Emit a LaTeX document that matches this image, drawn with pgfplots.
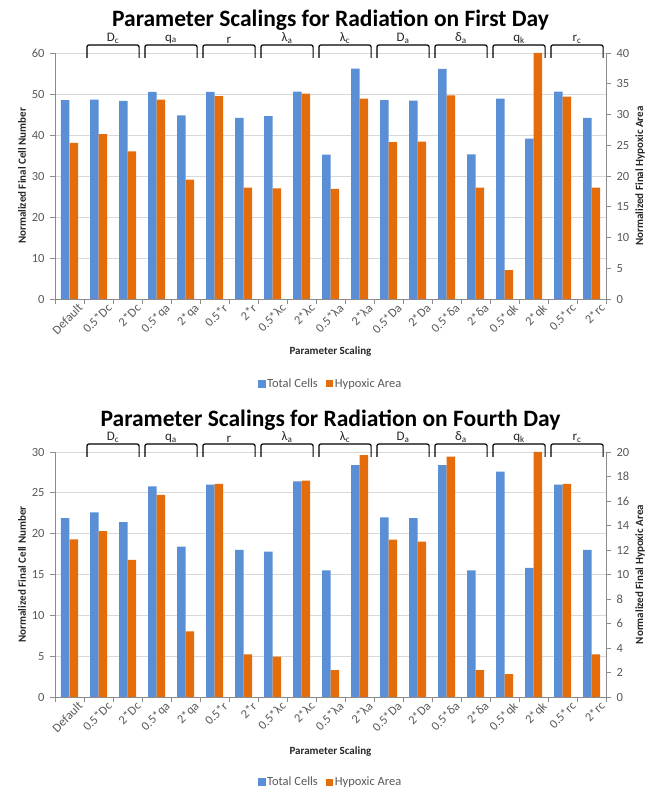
\documentclass[border=0pt]{standalone}
\usepackage{fontspec}
\setmainfont{Carlito}
\usepackage{pgfplots}
\pgfplotsset{compat=1.18}
\definecolor{cblue}{HTML}{5A8FD6}
\definecolor{corange}{HTML}{E46C0A}
\definecolor{tickgray}{HTML}{595959}
\definecolor{axgray}{HTML}{8C8C8C}
\definecolor{gridgray}{HTML}{D9D9D9}
\definecolor{labgray}{HTML}{262626}

\newcommand\brk[4]{%
  \draw[black, line width=1.2pt, rounded corners=2pt]
    ([yshift=-5pt]axis cs:#1,#3) -- ([yshift=8pt]axis cs:#1,#3) --
    ([yshift=8pt]axis cs:#2,#3) -- ([yshift=-5pt]axis cs:#2,#3);
  \node[anchor=south, inner sep=1pt, font=\fontsize{13}{14}\selectfont, text=labgray]
    at ([yshift=8.5pt]axis cs:{(#1+#2)/2},#3) {#4};}

\newcommand\brackets[1]{%
  \brk{0.6}{2.4}{#1}{D\textsubscript{c}}
  \brk{2.6}{4.4}{#1}{q\textsubscript{a}}
  \brk{4.6}{6.4}{#1}{r}
  \brk{6.6}{8.4}{#1}{λ\textsubscript{a}}
  \brk{8.6}{10.4}{#1}{λ\textsubscript{c}}
  \brk{10.6}{12.4}{#1}{D\textsubscript{a}}
  \brk{12.6}{14.4}{#1}{δ\textsubscript{a}}
  \brk{14.6}{16.4}{#1}{q\textsubscript{k}}
  \brk{16.6}{18.4}{#1}{r\textsubscript{c}}}

\pgfplotsset{
  base/.style={
    scale only axis, width=551pt,
    xmin=-0.5, xmax=18.5, ymin=0,
    ybar, bar width=8.5pt,
    /pgf/number format/assume math mode=true,
    tick label style={font=\fontsize{12.5}{14}\selectfont, text=tickgray},
    axis line style={axgray, line width=0.9pt},
    tick style={axgray, line width=0.9pt},
    major tick length=5pt, minor tick length=5pt,
    tick align=outside,
    clip=false,
  },
  leftax/.style={base,
    axis x line*=bottom, axis y line*=left,
    major tick length=0pt,
    ymajorgrids, grid style={gridgray, line width=0.9pt},
    xtick={0,...,18},
    xticklabels={Default,0.5*Dc,2*Dc,0.5*qa,2*qa,0.5*r,2*r,0.5*λc,2*λc,0.5*λa,2*λa,0.5*Da,2*Da,0.5*δa,2*δa,0.5*qk,2*qk,0.5*rc,2*rc},
    minor xtick={-0.5,0.5,...,18.5},
    xticklabel style={rotate=45, anchor=north east, inner sep=1pt, yshift=-7pt, xshift=4pt},
    yticklabel style={anchor=east, xshift=-7pt},
    xlabel={Parameter Scaling},
    xlabel style={font=\bfseries\fontsize{11}{13}\selectfont, text=labgray, at={(axis description cs:0.5,0)}, anchor=center},
    ylabel={Normalized Final Cell Number},
    ylabel style={font=\bfseries\fontsize{11}{13}\selectfont, text=labgray, at={(axis description cs:-0.06,0.5)}, anchor=center},
    title style={font=\bfseries\fontsize{23.5}{26}\selectfont, at={(axis description cs:0.5,1)}, anchor=center},
  },
  rightax/.style={base,
    axis x line=none, axis y line*=right,
    xtick=\empty,
    yticklabel style={anchor=west, xshift=2pt},
    ylabel={Normalized Final Hypoxic Area},
    ylabel style={font=\bfseries\fontsize{11}{13}\selectfont, text=labgray, at={(axis description cs:1.062,0.5)}, anchor=center},
    legend columns=2,
    legend style={draw=none, fill=none, font=\fontsize{12.5}{14}\selectfont, text=tickgray,
      /tikz/every even column/.append style={column sep=6pt}, inner sep=1pt},
  },
}

\begin{document}
\begin{tikzpicture}
\path[use as bounding box] (0pt,0pt) rectangle (662pt,794pt);

% ---------- First Day ----------
\begin{axis}[leftax, at={(55pt,495pt)}, anchor=south west, height=246pt,
  ymax=60, ytick={0,10,...,60}, minor ytick={0,10,...,60},
  xlabel style={yshift=-53pt},
  title={Parameter Scalings for Radiation on First Day}, title style={yshift=27pt}]
\addplot[fill=cblue, draw=none, bar shift=-4.25pt] coordinates {
(0,48.5) (1,48.6) (2,48.3) (3,50.5) (4,44.8) (5,50.5) (6,44.2) (7,44.6) (8,50.6) (9,35.2)
(10,56.2) (11,48.5) (12,48.4) (13,56.1) (14,35.3) (15,48.9) (16,39.1) (17,50.6) (18,44.2)};
\brackets{60}
\end{axis}
\begin{axis}[rightax, at={(55pt,495pt)}, anchor=south west, height=246pt,
  ymax=40, ytick={0,5,...,40},
  legend style={at={(axis description cs:0.5,-0.3455)}, anchor=center}]
\addlegendimage{legend image code/.code={\fill[cblue] (0pt,-3.5pt) rectangle (7pt,3.5pt);}}
\addlegendentry{Total Cells}
\addplot[fill=corange, draw=none, bar shift=4.25pt,
  legend image code/.code={\fill[corange] (0pt,-3.5pt) rectangle (7pt,3.5pt);}] coordinates {
(0,25.4) (1,26.8) (2,24.0) (3,32.4) (4,19.4) (5,33.0) (6,18.1) (7,18.0) (8,33.4) (9,17.9)
(10,32.6) (11,25.5) (12,25.6) (13,33.1) (14,18.1) (15,4.7) (16,40.0) (17,32.9) (18,18.1)};
\addlegendentry{Hypoxic Area}
\end{axis}

% ---------- Fourth Day ----------
\begin{axis}[leftax, at={(55pt,97pt)}, anchor=south west, height=245pt,
  ymax=30, ytick={0,5,...,30}, minor ytick={0,5,...,30},
  xlabel style={yshift=-55pt},
  title={Parameter Scalings for Radiation on Fourth Day}, title style={yshift=26pt}]
\addplot[fill=cblue, draw=none, bar shift=-4.25pt] coordinates {
(0,21.9) (1,22.6) (2,21.4) (3,25.8) (4,18.4) (5,26.0) (6,18.0) (7,17.8) (8,26.4) (9,15.5)
(10,28.4) (11,22.0) (12,21.9) (13,28.4) (14,15.5) (15,27.6) (16,15.8) (17,26.0) (18,18.0)};
\brackets{30}
\end{axis}
\begin{axis}[rightax, at={(55pt,97pt)}, anchor=south west, height=245pt,
  ymax=20, ytick={0,2,...,20},
  legend style={at={(axis description cs:0.5,-0.347)}, anchor=center}]
\addlegendimage{legend image code/.code={\fill[cblue] (0pt,-3.5pt) rectangle (7pt,3.5pt);}}
\addlegendentry{Total Cells}
\addplot[fill=corange, draw=none, bar shift=4.25pt,
  legend image code/.code={\fill[corange] (0pt,-3.5pt) rectangle (7pt,3.5pt);}] coordinates {
(0,12.87) (1,13.55) (2,11.2) (3,16.5) (4,5.36) (5,17.4) (6,3.47) (7,3.3) (8,17.66) (9,2.2)
(10,19.75) (11,12.84) (12,12.68) (13,19.62) (14,2.2) (15,1.87) (16,20.0) (17,17.4) (18,3.47)};
\addlegendentry{Hypoxic Area}
\end{axis}
\end{tikzpicture}
\end{document}
